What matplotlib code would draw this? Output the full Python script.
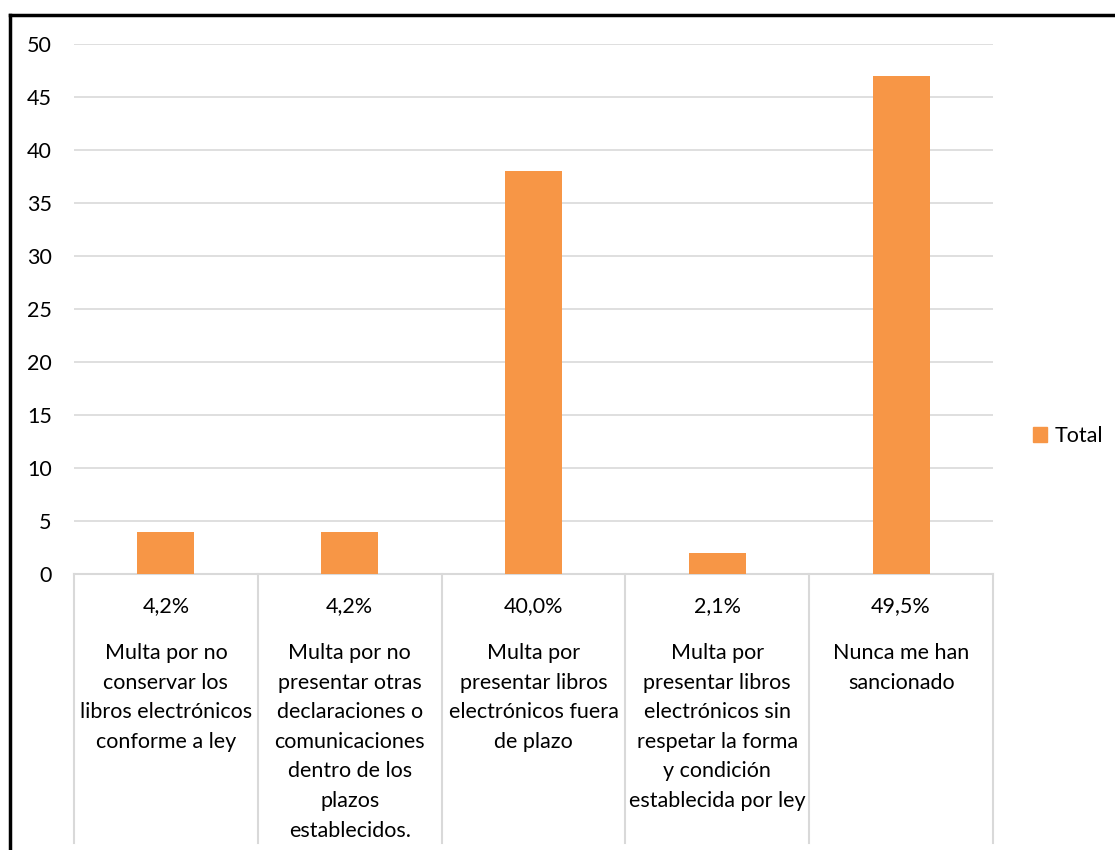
import matplotlib
matplotlib.use("Agg")
import matplotlib.pyplot as plt
from matplotlib.lines import Line2D
from matplotlib.patches import Patch

# data
categories = [
    "Multa por no\nconservar los\nlibros electrónicos\nconforme a ley",
    "Multa por no\npresentar otras\ndeclaraciones o\ncomunicaciones\ndentro de los\nplazos\nestablecidos.",
    "Multa por\npresentar libros\nelectrónicos fuera\nde plazo",
    "Multa por\npresentar libros\nelectrónicos sin\nrespetar la forma\ny condición\nestablecida por ley",
    "Nunca me han\nsancionado",
]
percentages = ["4,2%", "4,2%", "40,0%", "2,1%", "49,5%"]
totals = [4, 4, 38, 2, 47]
yticks = [0, 5, 10, 15, 20, 25, 30, 35, 40, 45, 50]

plt.rcParams['font.family'] = ['Lato', 'DejaVu Sans']

W, H = 1115, 850
fig = plt.figure(figsize=(W / 100, H / 100), dpi=100)

# axes placement in pixels
x0, x1 = 74, 993
ytop, ybot = 44, 574
ax = fig.add_axes([x0 / W, 1 - ybot / H, (x1 - x0) / W, (ybot - ytop) / H])

bar_color = "#f79646"
grid_color = "#d9d9d9"
fs = 15.5
xs = list(range(len(totals)))
ax.bar(xs, totals, width=0.31, color=bar_color, zorder=3)

ax.set_xlim(-0.5, len(totals) - 0.5)
ax.set_ylim(0, 50)
ax.set_yticks(yticks)
ax.set_xticks([])
for t in yticks[1:]:
    ax.axhline(t, color=grid_color, lw=1.2, zorder=1)
ax.axhline(0, color=grid_color, lw=1.5, zorder=2, clip_on=False)
for s in ax.spines.values():
    s.set_visible(False)
ax.tick_params(axis='y', length=0, pad=16, labelsize=fs, labelcolor="#000000")

axh = ybot - ytop
def yfrac(ypix):
    return (ybot - ypix) / axh

trans = ax.get_xaxis_transform()
# category dividers below the axis
for e in [i - 0.5 for i in range(len(totals) + 1)]:
    ax.plot([e, e], [0, yfrac(843)], transform=trans, color=grid_color,
            lw=1.5, clip_on=False)

for i, (pct, cat) in enumerate(zip(percentages, categories)):
    ax.text(i, yfrac(606), pct, transform=trans, ha='center', va='center',
            fontsize=fs)
    ax.text(i, yfrac(643), cat, transform=trans, ha='center', va='top',
            fontsize=fs, linespacing=1.6)

# legend
fig.legend(handles=[Patch(color=bar_color, label="Total")],
           loc='center left', bbox_to_anchor=(1014 / W, 1 - 436 / H),
           frameon=False, fontsize=fs, handlelength=0.65, handleheight=0.65,
           handletextpad=0.35)

# black frame on top and left
fig.add_artist(Line2D([9.5 / W, 1], [1 - 14.5 / H, 1 - 14.5 / H], color='black', lw=2.5))
fig.add_artist(Line2D([9.5 / W, 9.5 / W], [0, 1 - 14.5 / H], color='black', lw=2.5))

fig.savefig("out.png", dpi=100)
